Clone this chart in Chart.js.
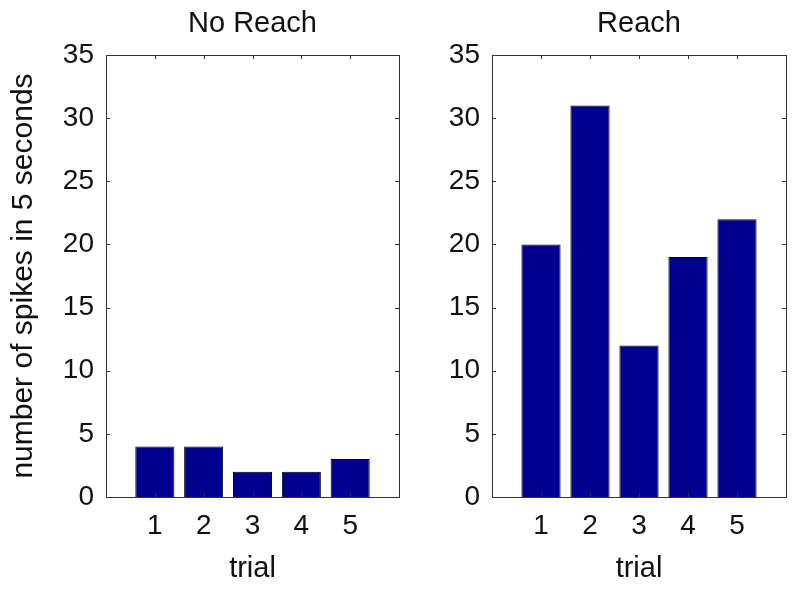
<!DOCTYPE html>
<html>
<head>
<meta charset="utf-8">
<script src="https://cdn.jsdelivr.net/npm/chart.js@4.4.1/dist/chart.umd.min.js"></script>
<style>
  body { margin: 0; background: #fff; }
  #wrap { position: relative; width: 800px; height: 590px; }
  #left { position: absolute; left: 0; top: 0; }
  #right { position: absolute; left: 420px; top: 0; }
</style>
</head>
<body>
<div id="wrap">
  <canvas id="left" width="420" height="590"></canvas>
  <canvas id="right" width="380" height="590"></canvas>
</div>
<script>
var trials = [1, 2, 3, 4, 5];
var noReach = [4, 4, 2, 2, 3];
var reach = [20, 31, 12, 19, 22];
var yTicks = [0, 5, 10, 15, 20, 25, 30, 35];

var FONT = "'Liberation Sans', Arial, sans-serif";

// box round the axes with small inward ticks on all four sides
var boxPlugin = {
    id: 'box',
    afterDraw: function(chart) {
        var ctx = chart.ctx;
        var a = chart.chartArea;
        var xs = chart.scales.x, ys = chart.scales.y;
        ctx.save();
        ctx.strokeStyle = '#333';
        ctx.lineWidth = 1;
        ctx.strokeRect(Math.round(a.left) + 0.5, Math.round(a.top) + 0.5,
                       Math.round(a.right - a.left), Math.round(a.bottom - a.top));
        ctx.beginPath();
        trials.forEach(function(t) {
            var px = Math.round(xs.getPixelForValue(t)) + 0.5;
            ctx.moveTo(px, a.top); ctx.lineTo(px, a.top + 4);
            ctx.moveTo(px, a.bottom); ctx.lineTo(px, a.bottom - 4);
        });
        yTicks.forEach(function(v) {
            var py = Math.round(ys.getPixelForValue(v)) + 0.5;
            ctx.moveTo(a.left, py); ctx.lineTo(a.left + 4, py);
            ctx.moveTo(a.right, py); ctx.lineTo(a.right - 4, py);
        });
        ctx.stroke();
        ctx.restore();
    }
};

function makePanel(id, values, title, yTitle, yWidth, padRight) {
    var ctx = document.getElementById(id).getContext('2d');
    return new Chart(ctx, {
        type: 'bar',
        data: {
            datasets: [{
                data: trials.map(function(t, i) { return { x: t, y: values[i] }; }),
                backgroundColor: '#000090',
                borderColor: '#000',
                borderWidth: 1,
                barPercentage: 0.8,
                categoryPercentage: 1
            }]
        },
        options: {
            responsive: false,
            animation: false,
            layout: { padding: { left: 0, right: padRight, top: 0, bottom: 0 } },
            plugins: {
                legend: { display: false },
                tooltip: { enabled: false },
                title: {
                    display: true,
                    text: title,
                    fullSize: false,
                    color: '#111',
                    font: { family: FONT, size: 29, weight: 'normal' },
                    padding: { top: 6.1, bottom: 14.1 }
                }
            },
            scales: {
                x: {
                    type: 'linear',
                    min: 0,
                    max: 6,
                    offset: false,
                    grid: { display: false, drawTicks: false, tickLength: 0 },
                    border: { display: false },
                    afterBuildTicks: function(scale) {
                        scale.ticks = trials.map(function(t) { return { value: t }; });
                    },
                    afterFit: function(scale) { scale.height = 93; },
                    ticks: {
                        color: '#111',
                        padding: 12,
                        maxRotation: 0,
                        font: { family: FONT, size: 28 }
                    },
                    title: {
                        display: true,
                        text: 'trial',
                        color: '#111',
                        font: { family: FONT, size: 29 },
                        padding: { top: 0, bottom: 4 }
                    }
                },
                y: {
                    min: 0,
                    max: 35,
                    grid: { display: false, drawTicks: false, tickLength: 0 },
                    border: { display: false },
                    afterBuildTicks: function(scale) {
                        scale.ticks = yTicks.map(function(v) { return { value: v }; });
                    },
                    afterFit: function(scale) { scale.width = yWidth; },
                    ticks: {
                        color: '#111',
                        padding: 12,
                        font: { family: FONT, size: 28 }
                    },
                    title: {
                        display: yTitle !== '',
                        text: yTitle,
                        color: '#111',
                        font: { family: FONT, size: 30 },
                        padding: { top: 6, bottom: 0 }
                    }
                }
            }
        },
        plugins: [boxPlugin]
    });
}

makePanel('left', noReach, 'No Reach', 'number of spikes in 5 seconds', 106, 21);
makePanel('right', reach, 'Reach', '', 72, 14);
</script>
</body>
</html>
